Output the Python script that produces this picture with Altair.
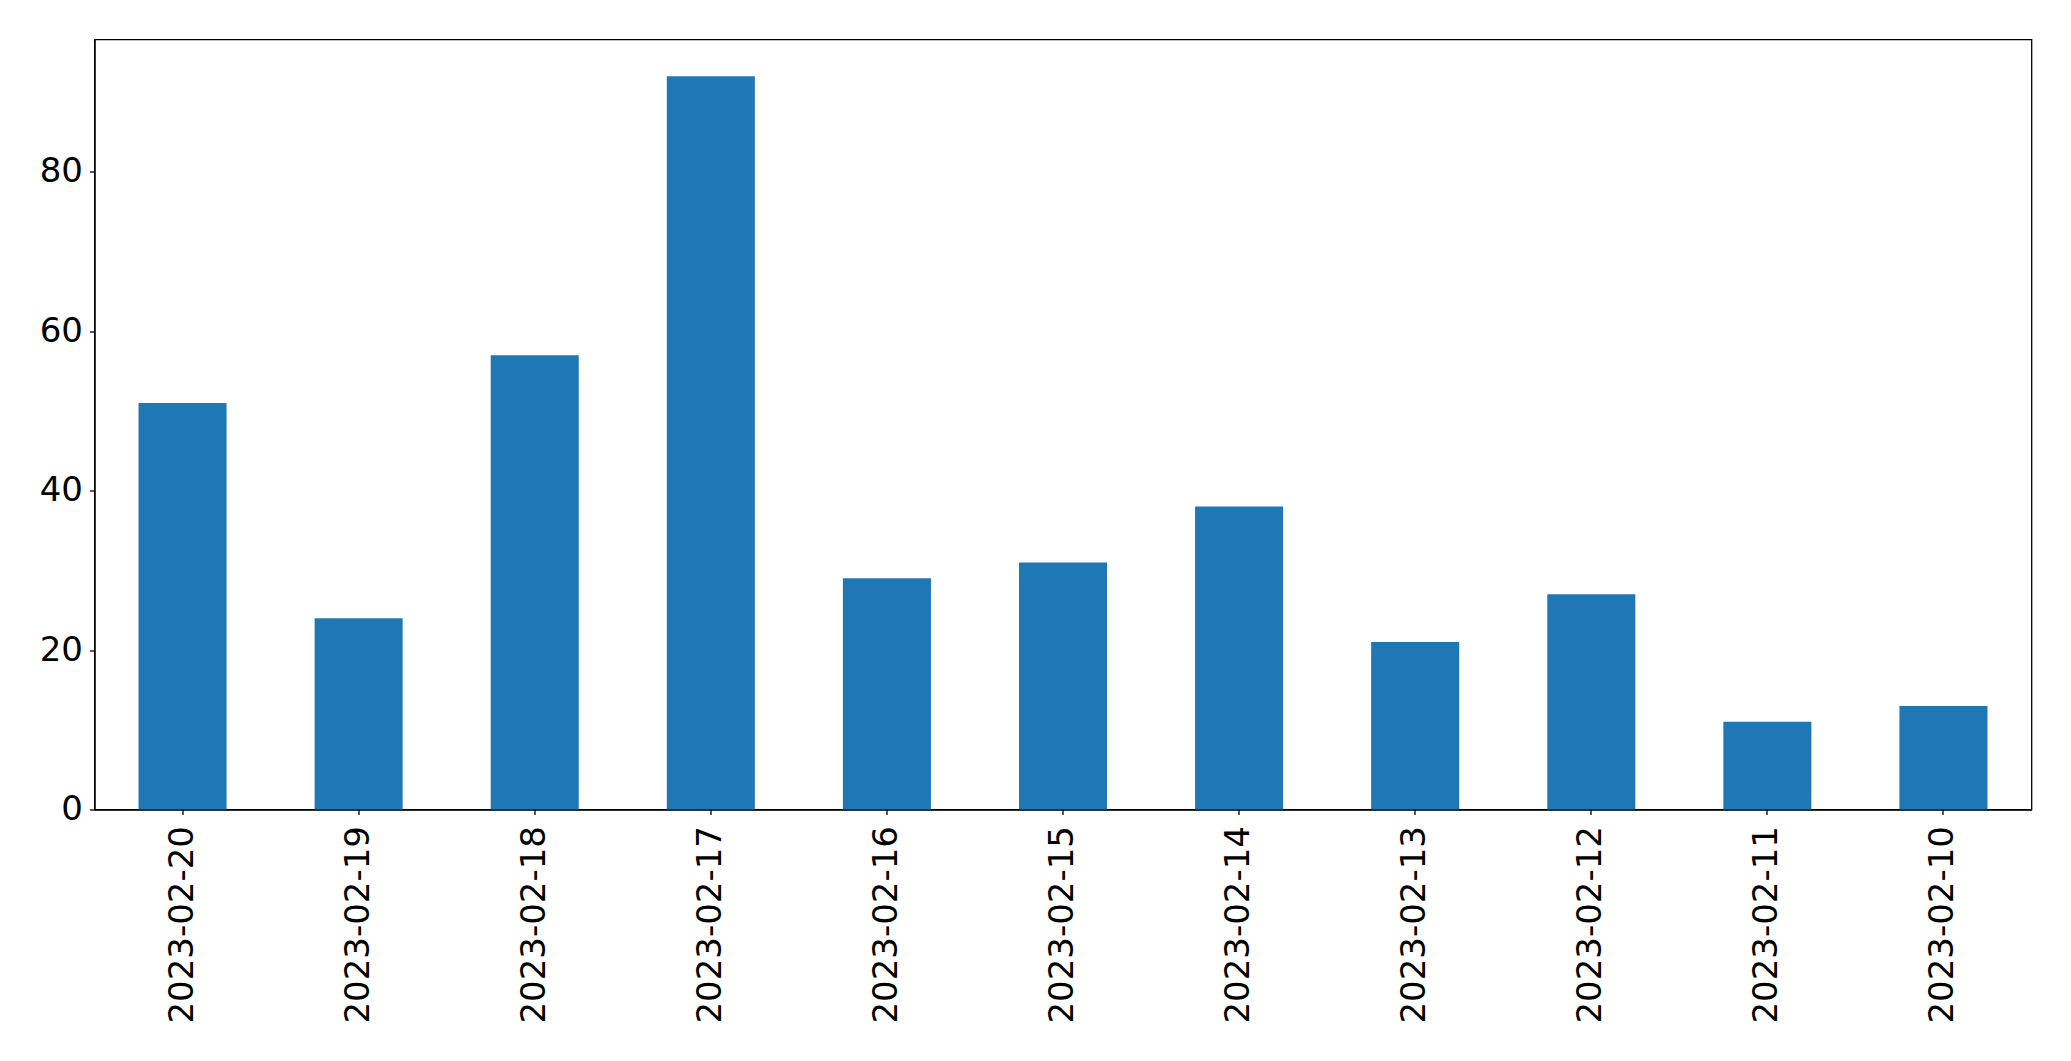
import altair as alt
import pandas as pd

dates = ["2023-02-20", "2023-02-19", "2023-02-18", "2023-02-17", "2023-02-16",
         "2023-02-15", "2023-02-14", "2023-02-13", "2023-02-12", "2023-02-11",
         "2023-02-10"]
counts = [51, 24, 57, 92, 29, 31, 38, 21, 27, 11, 13]

df = pd.DataFrame({"date": dates, "count": counts})

FONT = "DejaVu Sans"

chart = alt.Chart(df).mark_bar(color="#1f77b4").encode(
    x=alt.X("date:N", sort=dates, title=None,
            scale=alt.Scale(paddingInner=0.5, paddingOuter=0.25),
            axis=alt.Axis(labelAngle=-90, labelFont=FONT, labelFontSize=34,
                          labelColor="black", tickColor="black", tickSize=5,
                          tickWidth=1.3, domainColor="black", domainWidth=1.3,
                          labelPadding=11, labelLimit=0, grid=False)),
    y=alt.Y("count:Q", title=None,
            scale=alt.Scale(domain=[0, 96.6], nice=False, zero=True),
            axis=alt.Axis(values=[0, 20, 40, 60, 80], labelFont=FONT,
                          labelFontSize=34, labelColor="black",
                          tickColor="black", tickSize=5, tickWidth=1.3,
                          domainColor="black", domainWidth=1.3,
                          labelPadding=7, labelLimit=0, grid=False)),
).properties(
    width=1937, height=770,
    autosize=alt.AutoSizeParams(type="none"),
    padding={"left": 86.5, "top": 31.5, "right": 30, "bottom": 240},
    background="white",
).configure_view(
    stroke="black", strokeWidth=1.3
)

chart.save("out.html", embed_options={"renderer": "svg", "actions": False})
